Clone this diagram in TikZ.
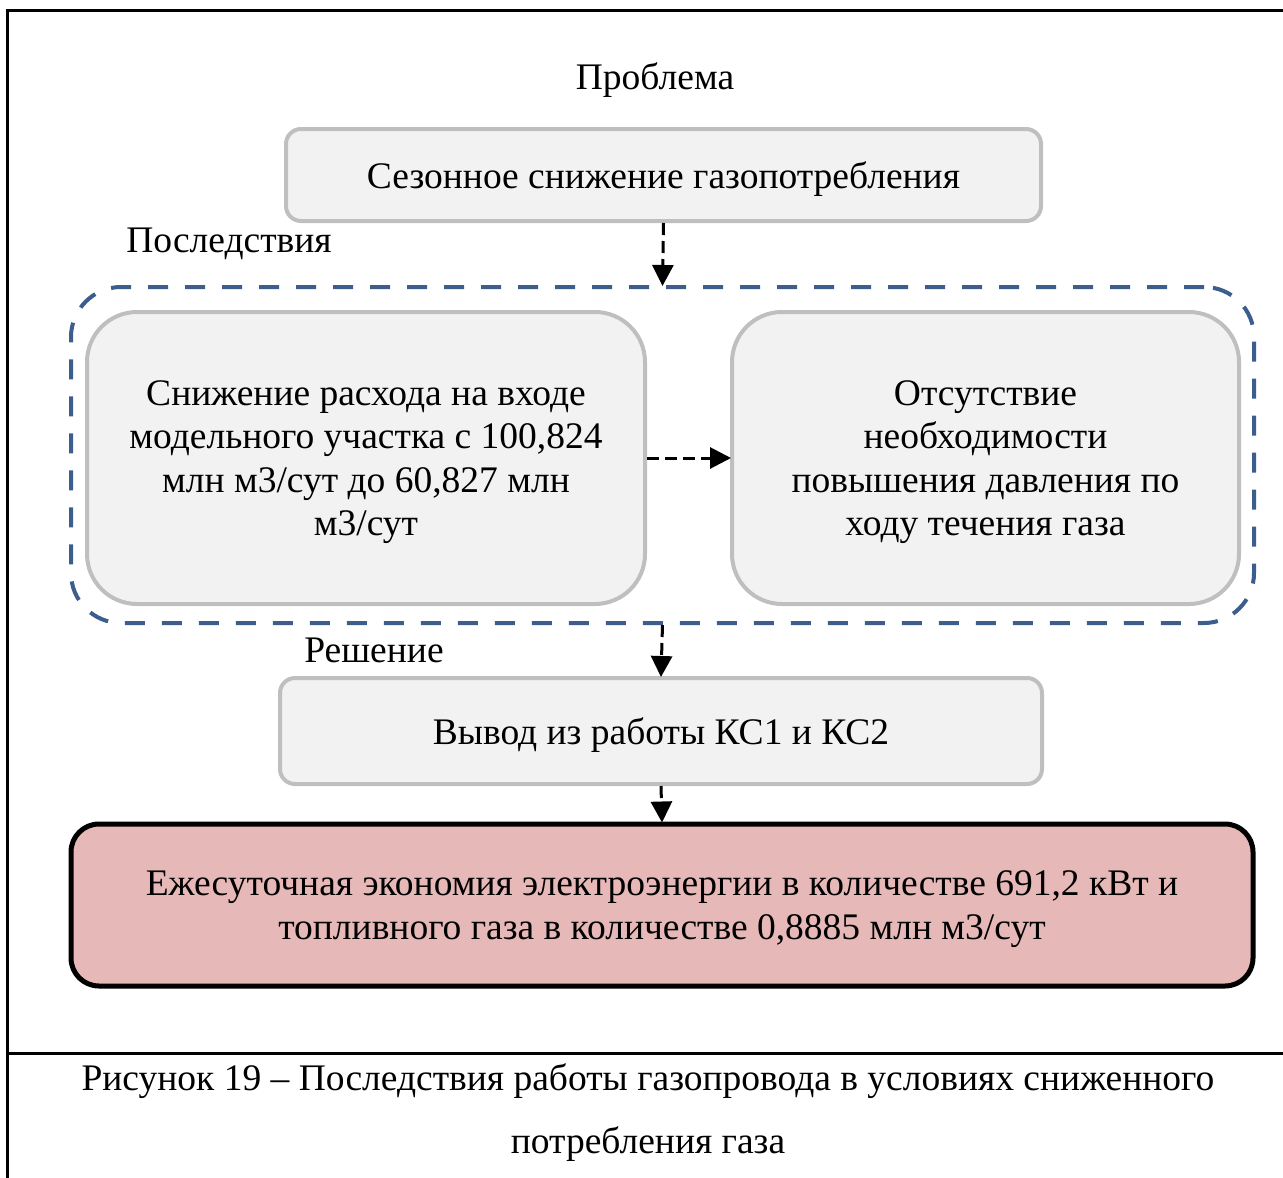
\documentclass[tikz,border=0pt]{standalone}
\usepackage{fontspec}
\setmainfont{Liberation Serif}
\usetikzlibrary{arrows.meta}
\definecolor{boxfill}{HTML}{F2F2F2}
\definecolor{boxline}{HTML}{BFBFBF}
\definecolor{grpline}{HTML}{3B5E8C}
\definecolor{resfill}{HTML}{E6B8B7}
\tikzset{
  txt/.style={font=\fontsize{37.5}{43.5}\selectfont, align=center, inner sep=0pt},
  boxtext/.style={txt, yshift=-4pt},
  graybox/.style={draw=boxline, fill=boxfill, line width=4pt, rounded corners=#1, inner sep=0pt},
  graybox/.default=15pt,
  grpbox/.style={draw=grpline, line width=4pt, dash pattern=on 20pt off 17pt, rounded corners=50pt, inner sep=0pt},
  resbox/.style={draw=black, fill=resfill, line width=5pt, rounded corners=28pt, inner sep=0pt},
  dasharrow/.style={draw=black, line width=3pt, dash pattern=on 12pt off 6pt,
    -{Triangle[length=21pt,width=21pt]}, shorten >=-1pt},
  frame/.style={line width=3pt, draw=black},
}
\begin{document}
\begin{tikzpicture}[x=1pt, y=-1pt]
  \useasboundingbox (0,0) rectangle (1283,1178);
  % outer frame and caption rule
  \draw[frame] (1283,10) -- (7,10) -- (7,1178);
  \draw[frame] (7,1053) -- (1283,1053);

  % section headings
  \node[txt] (hProb) at (655,80) {Проблема};
  \node[txt] (hCons) at (229,244) {Последствия};
  \node[txt] (hSol)  at (374,650) {Решение};

  % boxes
  \node[graybox, minimum width=755pt, minimum height=92pt] (top) at (663.5,175) {};
  \node[boxtext] (topT) at (top.center) {Сезонное снижение газопотребления};

  \node[grpbox, minimum width=1183pt, minimum height=336pt] (grp) at (662.5,455) {};

  \node[graybox=50pt, minimum width=558pt, minimum height=292pt] (left) at (366,458) {};
  \node[boxtext] (leftT) at (left.center)
    {Снижение расхода на входе\\модельного участка с 100,824\\млн м3/сут до 60,827 млн\\м3/сут};

  \node[graybox=50pt, minimum width=507pt, minimum height=292pt] (right) at (985.5,458) {};
  \node[boxtext] (rightT) at (right.center)
    {Отсутствие\\необходимости\\повышения давления по\\ходу течения газа};

  \node[graybox, minimum width=762pt, minimum height=106pt] (sol) at (661,731) {};
  \node[boxtext] (solT) at (sol.center) {Вывод из работы КС1 и КС2};

  \node[resbox, minimum width=1182pt, minimum height=162pt] (res) at (662,905) {};
  \node[boxtext] (resT) at (res.center)
    {Ежесуточная экономия электроэнергии в количестве 691,2 кВт и\\топливного газа в количестве 0,8885 млн м3/сут};

  % connectors
  \draw[dasharrow] (top.south) -- (grp.north);
  \draw[dasharrow] (left.east) -- (right.west);
  \draw[dasharrow] (grp.south) -- (sol.north);
  \draw[dasharrow] (sol.south) -- (res.north);

  % caption
  \node[txt] (cap1) at (648,1081) {Рисунок 19 – Последствия работы газопровода в условиях сниженного};
  \node[txt] (cap2) at (648,1144) {потребления газа};
\end{tikzpicture}
\end{document}
